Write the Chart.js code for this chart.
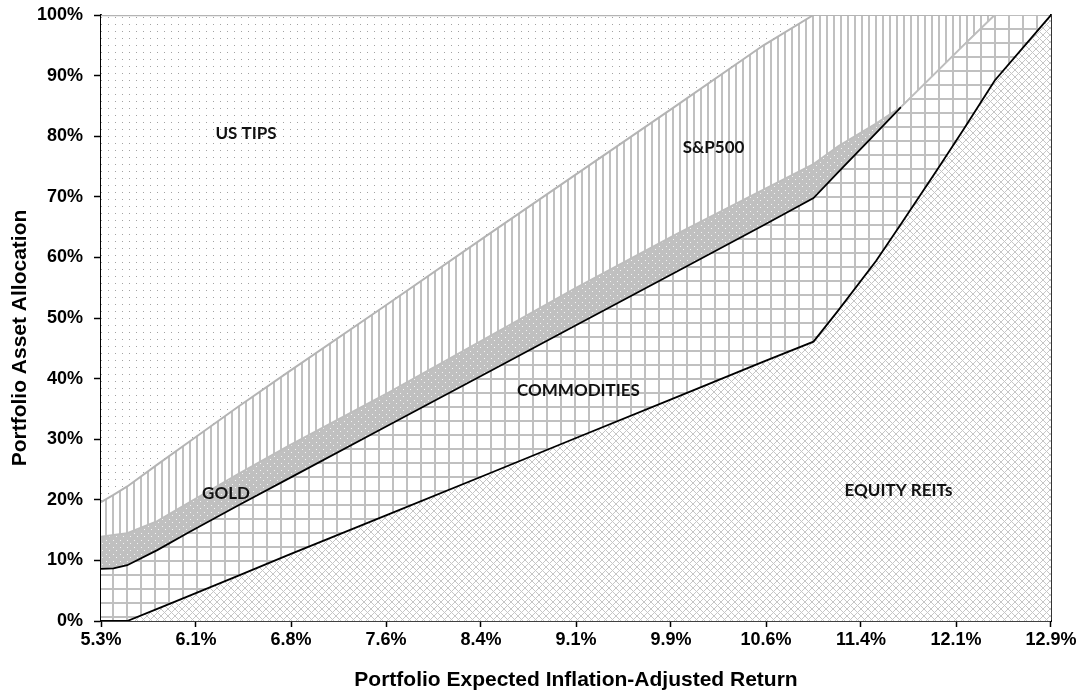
<!DOCTYPE html>
<html>
<head>
<meta charset="utf-8">
<script src="https://cdn.jsdelivr.net/npm/chart.js@4.4.1/dist/chart.umd.min.js"></script>
<style>
  html, body { margin: 0; padding: 0; background: #fff; }
  #wrap { width: 1083px; height: 698px; }
</style>
</head>
<body>
<div id="wrap"><canvas id="chart" width="1083" height="698"></canvas></div>
<script>
// expected real return of each portfolio (x) and allocation of each asset in %
const returns = [5.30, 5.40, 5.51, 5.75, 6.00, 6.40, 6.80, 7.60, 8.40, 9.10, 9.90, 10.60, 11.00, 11.20, 11.50, 11.70, 12.00, 12.20, 12.45, 12.70, 12.90];
const equityReits = [0, 0, 0, 2.0, 4.1, 7.5, 10.9, 17.6, 24.3, 30.2, 36.9, 42.8, 46.1, 51.3, 59.4, 65.5, 74.8, 81.1, 89.2, 95.2, 100];
const commodities = [8.6, 8.7, 9.2, 9.7, 10.5, 11.6, 12.6, 14.7, 16.8, 18.6, 20.7, 22.5, 23.7, 22.8, 21.1, 19.3, 16.1, 13.9, 10.8, 4.8, 0];
const gold = [5.3, 5.5, 5.3, 4.8, 4.9, 5.2, 5.4, 5.4, 5.8, 6.2, 6.2, 5.9, 5.6, 4.3, 1.6, 0, 0, 0, 0, 0, 0];
const sp500 = [5.7, 6.6, 7.7, 9.3, 10.0, 11.1, 12.2, 14.7, 16.9, 18.7, 21.2, 23.8, 24.6, 21.6, 17.9, 15.2, 9.1, 5.0, 0, 0, 0];
const usTips = [80.4, 79.2, 77.8, 74.2, 70.5, 64.6, 58.9, 47.6, 36.2, 26.3, 15.0, 5.0, 0, 0, 0, 0, 0, 0, 0, 0, 0];

const xTickLabels = ['5.3%', '6.1%', '6.8%', '7.6%', '8.4%', '9.1%', '9.9%', '10.6%', '11.4%', '12.1%', '12.9%'];

// area names written inside the chart, at (return, allocation)
const areaNames = ['US TIPS', 'S&P500', 'GOLD', 'COMMODITIES', 'EQUITY REITs'];
const areaNameX = [6.46, 10.20, 6.30, 9.12, 11.68];
const areaNameY = [80.4, 78.1, 21.0, 38.1, 21.5];

const yTitle = 'Portfolio Asset Allocation';
const xTitle = 'Portfolio Expected Inflation-Adjusted Return';

function makePattern(size, paint) {
  const c = document.createElement('canvas');
  c.width = size[0];
  c.height = size[1];
  const g = c.getContext('2d');
  paint(g);
  return g.createPattern(c, 'repeat');
}

const ctx = document.getElementById('chart').getContext('2d');

const tipsFill = makePattern([7, 7], g => {
  g.fillStyle = '#fff'; g.fillRect(0, 0, 7, 7);
  g.fillStyle = '#a2a2a2'; g.fillRect(3, 3, 1, 1);
});
const spFill = makePattern([7, 1], g => {
  g.fillStyle = '#fff'; g.fillRect(0, 0, 7, 1);
  g.fillStyle = '#c0c0c0'; g.fillRect(0, 0, 2, 1);
});
const goldFill = makePattern([7, 7], g => {
  g.fillStyle = '#c0c0c0'; g.fillRect(0, 0, 7, 7);
  g.fillStyle = '#f4f4f4'; g.fillRect(1, 1, 1, 1); g.fillRect(4, 4, 1, 1);
});
const commFill = makePattern([14, 14], g => {
  g.fillStyle = '#fff'; g.fillRect(0, 0, 14, 14);
  g.fillStyle = '#c0c0c0'; g.fillRect(0, 0, 2, 14); g.fillRect(0, 0, 14, 2);
});
const reitsFill = makePattern([7, 7], g => {
  g.fillStyle = '#fff'; g.fillRect(0, 0, 7, 7);
  g.fillStyle = '#c6c6c6';
  for (let i = 0; i < 7; i++) {
    g.fillRect(i, i, 1, 1);
    g.fillRect(6 - i, i, 1, 1);
  }
});

function series(values) {
  return values.map((v, i) => ({ x: returns[i], y: v }));
}

const textPlugin = {
  id: 'texts',
  afterDatasetsDraw(chart) {
    const g = chart.ctx;
    const xs = chart.scales.x, ys = chart.scales.y;
    const area = chart.chartArea;
    g.save();
    g.font = 'bold 17px Lato, "Open Sans", sans-serif';
    g.fillStyle = '#111';
    g.textAlign = 'center';
    g.textBaseline = 'middle';
    for (let i = 0; i < areaNames.length; i++) {
      g.fillText(areaNames[i], xs.getPixelForValue(areaNameX[i]), ys.getPixelForValue(areaNameY[i]));
    }
    // axis titles (the y title sits a little below the middle of the plot, as in Excel)
    g.fillStyle = '#000';
    g.font = 'bold 21px "Liberation Sans", Arial, sans-serif';
    g.fillText(xTitle, (area.left + area.right) / 2, 680);
    g.translate(20, (area.top + area.bottom) / 2 + 20);
    g.rotate(-Math.PI / 2);
    g.fillText(yTitle, 0, 0);
    g.restore();
  }
};

const tickFont = { family: '"Liberation Sans", Arial, sans-serif', size: 18, weight: 'bold' };

new Chart(ctx, {
  type: 'line',
  data: {
    datasets: [
      { label: 'EQUITY REITs', data: series(equityReits), fill: 'origin', backgroundColor: reitsFill,
        borderColor: '#000', borderWidth: 1.8 },
      { label: 'COMMODITIES', data: series(commodities), fill: '-1', backgroundColor: commFill,
        borderColor: '#000', borderWidth: 1.8,
        segment: { borderColor: c => (gold[c.p0DataIndex] === 0 && gold[c.p1DataIndex] === 0) ? '#bdbdbd' : '#000' } },
      { label: 'GOLD', data: series(gold), fill: '-1', backgroundColor: goldFill,
        borderColor: '#bdbdbd', borderWidth: 1.8 },
      { label: 'S&P500', data: series(sp500), fill: '-1', backgroundColor: spFill,
        borderColor: '#b4b4b4', borderWidth: 2 },
      { label: 'US TIPS', data: series(usTips), fill: '-1', backgroundColor: tipsFill,
        borderColor: '#b4b4b4', borderWidth: 2.5 }
    ]
  },
  options: {
    responsive: false,
    animation: false,
    events: [],
    layout: { padding: { top: 15, right: 32, bottom: 0, left: 0 } },
    elements: { point: { radius: 0 }, line: { tension: 0 } },
    plugins: { legend: { display: false }, tooltip: { enabled: false } },
    scales: {
      x: {
        type: 'linear',
        min: 5.3,
        max: 12.9,
        afterBuildTicks: s => {
          s.ticks = xTickLabels.map((l, i) => ({ value: 5.3 + i * (12.9 - 5.3) / (xTickLabels.length - 1) }));
        },
        afterFit: s => { s.height = 77; s.paddingLeft = 0; s.paddingRight = 0; },
        grid: { drawOnChartArea: false, color: '#000', tickLength: 6, tickWidth: 1.5 },
        border: { color: '#000', width: 1.8 },
        ticks: { color: '#000', font: tickFont, padding: 2, maxRotation: 0, autoSkip: false,
          callback: (v, i) => xTickLabels[i] }
      },
      y: {
        stacked: true,
        min: 0,
        max: 100,
        afterFit: s => { s.width = 101; s.paddingTop = 0; s.paddingBottom = 0; },
        grid: { drawOnChartArea: false, color: '#000', tickLength: 7, tickWidth: 1.5 },
        border: { color: '#000', width: 1.8 },
        ticks: { stepSize: 10, color: '#000', font: tickFont, padding: 11, callback: v => v + '%' }
      },
      yRight: {
        position: 'right',
        min: 0,
        max: 100,
        afterFit: s => { s.width = 0; s.paddingTop = 0; s.paddingBottom = 0; },
        grid: { drawOnChartArea: false, drawTicks: false },
        border: { color: '#000', width: 1.8 },
        ticks: { display: false }
      }
    }
  },
  plugins: [textPlugin]
});
</script>
</body>
</html>
